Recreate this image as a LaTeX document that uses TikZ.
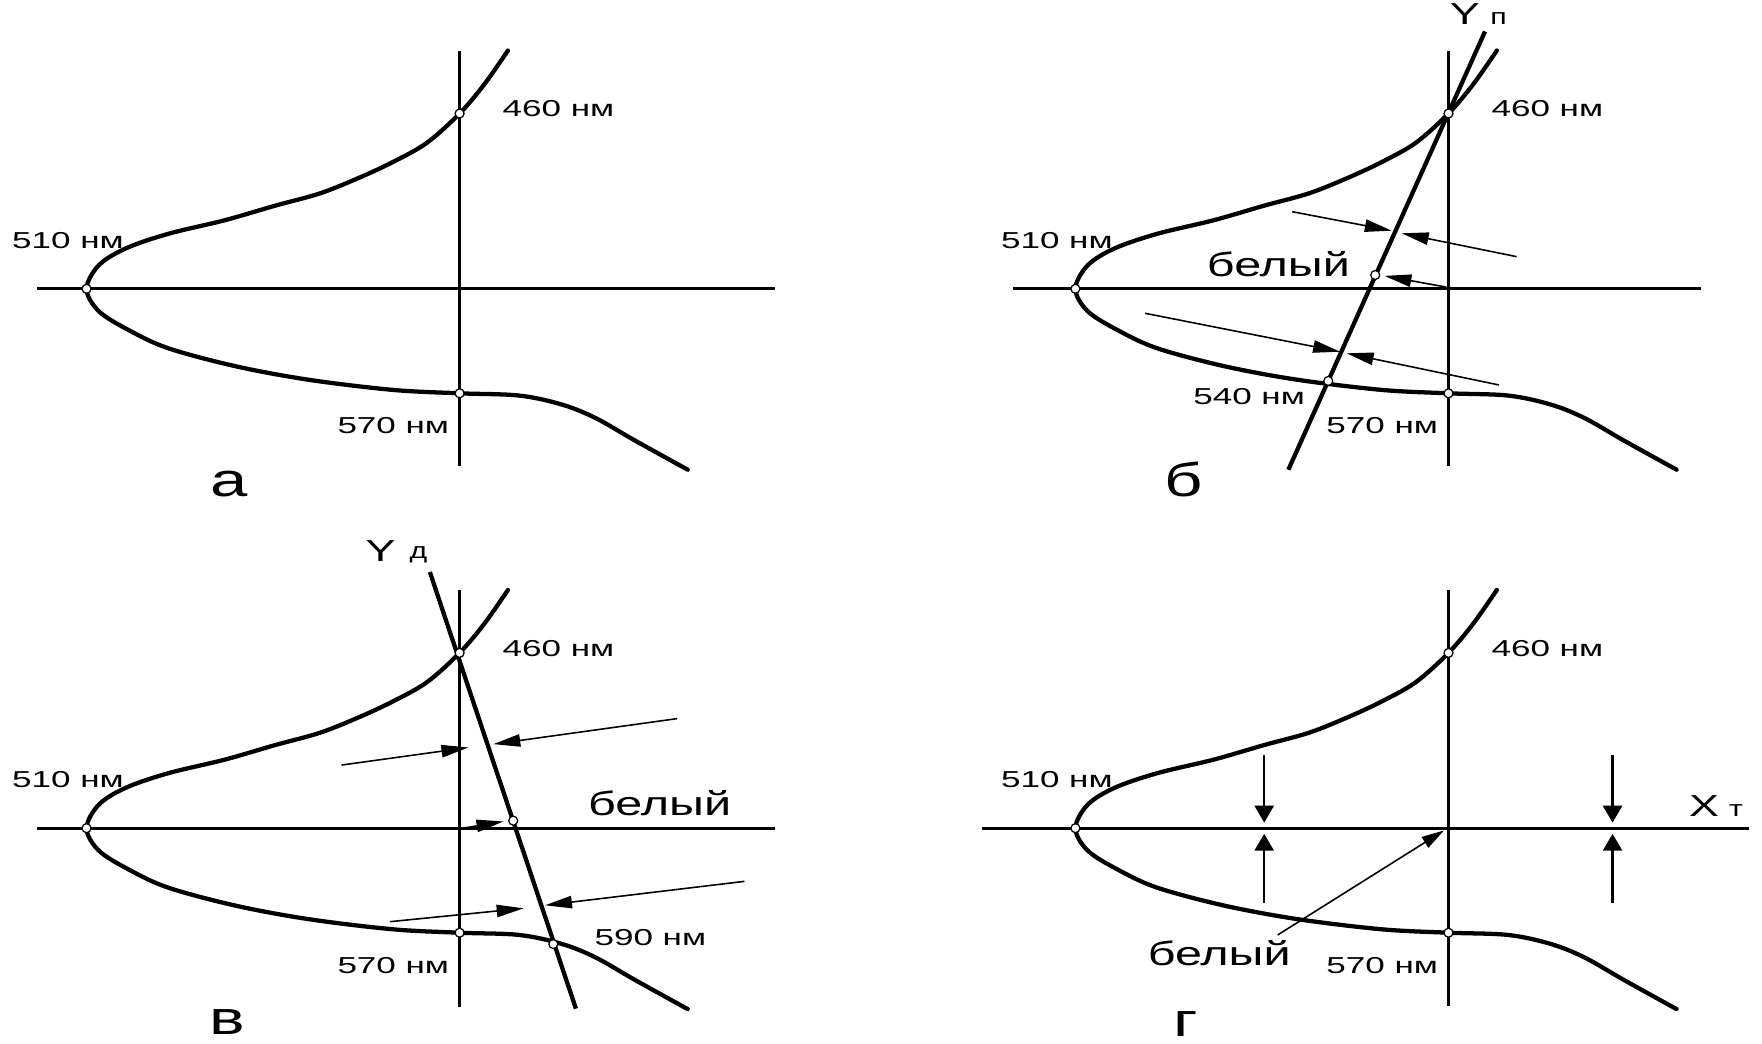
\documentclass[tikz,border=0pt]{standalone}
\usepackage{fontspec}
\setmainfont{Liberation Sans}
\usetikzlibrary{arrows.meta}
\newcommand\sx[2]{\scalebox{#1}[1]{#2}}
\tikzset{
 curve/.style={line width=3.8pt, line cap=round, line join=round},
 axis/.style={line width=3pt},
 yline/.style={line width=3.8pt},
 thinl/.style={line width=1.4pt},
 harr/.style={thinl, -{Triangle[length=24pt,width=11pt]}},
 varr/.style={line width=2pt, -{Triangle[length=15pt,width=17pt]}},
 darr/.style={thinl, -{Triangle[length=20pt,width=11pt]}},
 dot/.style={circle, draw, fill=white, inner sep=0pt, minimum size=8pt, line width=1.1pt},
 nm/.style={font=\fontsize{20.5}{24}\selectfont, anchor=base, inner sep=0pt},
 wh/.style={font=\fontsize{30}{34}\selectfont, anchor=base, inner sep=0pt},
 pl/.style={font=\fontsize{42}{46}\selectfont, anchor=base, inner sep=0pt},
 bigl/.style={font=\fontsize{27}{30}\selectfont, anchor=base, inner sep=0pt},
 smalll/.style={font=\fontsize{20}{24}\selectfont, anchor=base, inner sep=0pt},
}
\newcommand\locuscurve{%
 \draw[curve] plot[smooth,tension=0.55] coordinates {(452,45) (431,75) (409,101) (380,127) (350,144) (320,158) (285,172) (245,183) (200,196) (150,208) (112,221) (88,236) (77,257) (88,277) (115,294) (150,310) (210,326) (275,338) (350,347) (409,350) (462,352) (500,360) (530,372) (565,392) (612,418)};%
}
\newcommand\locusmarks[1]{%
 \node[dot] (#1-460) at (409,101) {};
 \node[dot] (#1-510) at (77,257) {};
 \node[dot] (#1-570) at (409,350) {};
 \node[nm] (#1-t460) at (497,104) {\sx{1.52}{460 нм}};
 \node[nm] (#1-t510) at (60.5,221) {\sx{1.52}{510 нм}};
 \node[nm] (#1-t570) at (350,386) {\sx{1.52}{570 нм}};
}
\begin{document}
\begin{tikzpicture}[x=1pt,y=-1pt]
\useasboundingbox (0,0) rectangle (1568,929);
\fill[white] (0,0) rectangle (1568,929);

% ---------- panel a ----------
\begin{scope}
 \draw[axis] (33,257) -- (690,257);
 \draw[axis] (409,45) -- (409,415);
 \locuscurve
 \locusmarks{a}
\end{scope}
\node[pl] (la) at (204,442) {\sx{1.42}{а}};

% ---------- panel b ----------
\begin{scope}[shift={(880,0)}]
 \draw[axis] (21.5,257) -- (634,257);
 \draw[axis] (409,45) -- (409,415);
 \locuscurve
\end{scope}
\coordinate (bYb) at (1146.5,418);
\coordinate (bYt) at (1321.5,28);
\draw[yline] (bYb) -- (bYt);
\coordinate (b1s) at (1150,188.4);  \coordinate (b1t) at (1238.5,205.3);
\coordinate (b2s) at (1349.7,228.4);\coordinate (b2t) at (1247.4,207.6);
\coordinate (bO)  at (1287,255.5);  \coordinate (b3t) at (1232,245.5);
\coordinate (b4s) at (1019,278.8);  \coordinate (b4t) at (1192.5,313);
\coordinate (b5s) at (1334,342.6);  \coordinate (b5t) at (1198.4,314.4);
\draw[harr] (b1s) -- (b1t);
\draw[harr] (b2s) -- (b2t);
\draw[harr] (bO) -- (b3t);
\draw[harr] (b4s) -- (b4t);
\draw[harr] (b5s) -- (b5t);
\begin{scope}[shift={(880,0)}]
 \locusmarks{b}
\end{scope}
\node[dot] (bW) at (1223.8,244.7) {};
\node[dot] (b540) at (1182,339) {};
\node[nm] (bt540) at (1111.6,360) {\sx{1.52}{540 нм}};
\node[wh] (btW) at (1137.7,246) {\sx{1.44}{белый}};
\node[pl] (lb) at (1053,442) {\sx{1.42}{б}};
\node[bigl] (bY) at (1303.5,22) {\sx{1.48}{Y}};
\node[smalll] (bYp) at (1333.5,22) {\sx{1.35}{п}};

% ---------- panel v ----------
\begin{scope}[shift={(0,480)}]
 \draw[axis] (32.5,257) -- (690,257);
 \draw[axis] (409,45) -- (409,416);
 \locuscurve
\end{scope}
\coordinate (vYt) at (382.5,509);
\coordinate (vYb) at (512.5,897.6);
\draw[yline] (vYt) -- (vYb);
\coordinate (v1s) at (304,680.8);   \coordinate (v1t) at (416.8,665.2);
\coordinate (v2s) at (602.5,639.5); \coordinate (v2t) at (439,662.2);
\coordinate (vO)  at (412,737);     \coordinate (v3t) at (448,731);
\coordinate (v4s) at (347,820.2);   \coordinate (v4t) at (466,808.3);
\coordinate (v5s) at (662.5,784.3); \coordinate (v5t) at (485,805.6);
\draw[harr] (v1s) -- (v1t);
\draw[harr] (v2s) -- (v2t);
\draw[harr] (vO) -- (v3t);
\draw[harr] (v4s) -- (v4t);
\draw[harr] (v5s) -- (v5t);
\begin{scope}[shift={(0,480)}]
 \locusmarks{v}
\end{scope}
\node[dot] (vW) at (456.7,730.3) {};
\node[dot] (v590) at (492.4,840.1) {};
\node[nm] (vt590) at (578.8,841) {\sx{1.52}{590 нм}};
\node[wh] (vtW) at (587,726) {\sx{1.44}{белый}};
\node[pl] (lv) at (202.5,921) {\sx{1.42}{в}};
\node[bigl] (vY) at (338.8,500) {\sx{1.48}{Y}};
\node[smalll] (vYd) at (372.5,497) {\sx{1.35}{д}};

% ---------- panel g ----------
\begin{scope}[shift={(880,480)}]
 \draw[axis] (-6,257) -- (676,257);
 \draw[axis] (409,45) -- (409,415);
 \locuscurve
\end{scope}
\coordinate (g1s) at (1125,672);  \coordinate (g1t) at (1125,732);
\coordinate (g2s) at (1125,804);  \coordinate (g2t) at (1125,742);
\coordinate (g3s) at (1435,672);  \coordinate (g3t) at (1435,732);
\coordinate (g4s) at (1435,804);  \coordinate (g4t) at (1435,742);
\coordinate (g5s) at (1137,832);  \coordinate (g5t) at (1285,739);
\draw[varr] (g1s) -- (g1t);
\draw[varr] (g2s) -- (g2t);
\draw[varr] (g3s) -- (g3t);
\draw[varr] (g4s) -- (g4t);
\draw[darr] (g5s) -- (g5t);
\begin{scope}[shift={(880,480)}]
 \locusmarks{g}
\end{scope}
\node[wh] (gtW) at (1085,859) {\sx{1.44}{белый}};
\node[pl] (lg) at (1055,922) {\sx{1.42}{г}};
\node[bigl] (gX) at (1516.5,727) {\sx{1.48}{X}};
\node[smalll] (gXt) at (1545,727) {\sx{1.35}{т}};
\end{tikzpicture}
\end{document}
